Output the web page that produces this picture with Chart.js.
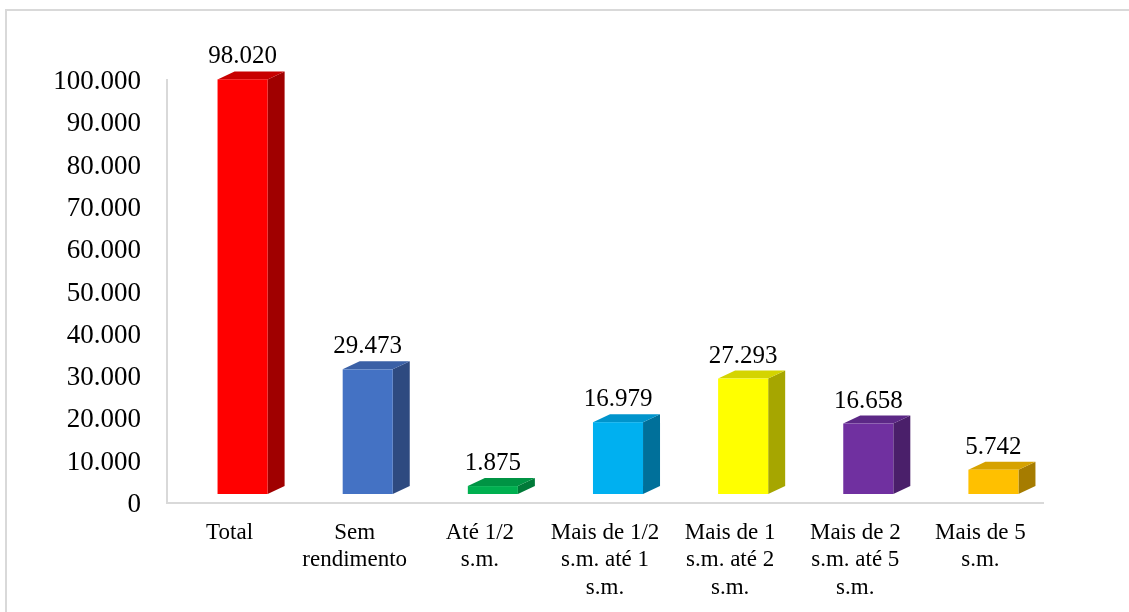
<!DOCTYPE html>
<html>
<head>
<meta charset="utf-8">
<script src="https://cdn.jsdelivr.net/npm/chart.js@4"></script>
<style>
  html, body { margin: 0; padding: 0; background: #fff; overflow: hidden; }
  #frame { position: absolute; left: 5px; top: 9px; width: 1200px; height: 700px; border: 2px solid #d9d9d9; }
  #wrap { position: absolute; left: 0; top: 0; width: 1129px; height: 612px; }
</style>
</head>
<body>
<div id="frame"></div>
<div id="wrap"><canvas id="chart" width="1129" height="612"></canvas></div>
<script>
// Data
const categories = [
  'Total',
  ['Sem', 'rendimento'],
  ['Até 1/2', 's.m.'],
  ['Mais de 1/2', 's.m. até 1', 's.m.'],
  ['Mais de 1', 's.m. até 2', 's.m.'],
  ['Mais de 2', 's.m. até 5', 's.m.'],
  ['Mais de 5', 's.m.']
];
const values = [98020, 29473, 1875, 16979, 27293, 16658, 5742];
const yTicks = [0, 10000, 20000, 30000, 40000, 50000, 60000, 70000, 80000, 90000, 100000];

// Colours: front, side, top
const frontColors = ['#ff0000', '#4472c4', '#00b050', '#00b0f0', '#ffff00', '#7030a0', '#ffc000'];
const sideColors  = ['#a00000', '#2e4a80', '#007a38', '#00709a', '#a6a600', '#4a1f6a', '#a67c00'];
const topColors   = ['#c80000', '#3a60a6', '#009444', '#0094cc', '#d4d400', '#5c2886', '#d6a200'];

const fmt = v => String(v).replace(/\B(?=(\d{3})+(?!\d))/g, '.');
const serif = "'Liberation Serif', 'Times New Roman', serif";

// 3D box drawn from each bar element
const bars3d = {
  id: 'bars3d',
  afterDatasetsDraw(chart) {
    const ctx = chart.ctx;
    const meta = chart.getDatasetMeta(0);
    const dx = 17, dy = 8, sx = 13, sy = 9;
    ctx.save();
    meta.data.forEach((bar, i) => {
      const w = bar.width;
      const left = bar.x - w / 2 + sx;
      const right = left + w;
      const top = bar.y - sy;
      const bottom = bar.base - sy;

      // side face
      ctx.fillStyle = sideColors[i];
      ctx.beginPath();
      ctx.moveTo(right, top);
      ctx.lineTo(right + dx, top - dy);
      ctx.lineTo(right + dx, bottom - dy);
      ctx.lineTo(right, bottom);
      ctx.closePath();
      ctx.fill();

      // top face
      ctx.fillStyle = topColors[i];
      ctx.beginPath();
      ctx.moveTo(left, top);
      ctx.lineTo(left + dx, top - dy);
      ctx.lineTo(right + dx, top - dy);
      ctx.lineTo(right, top);
      ctx.closePath();
      ctx.fill();

      // front face
      ctx.fillStyle = frontColors[i];
      ctx.fillRect(left, top, w, bottom - top);

      // value label
      ctx.fillStyle = '#000';
      ctx.font = '25px ' + serif;
      ctx.textAlign = 'center';
      ctx.textBaseline = 'alphabetic';
      ctx.fillText(fmt(values[i]), left + w / 2, top - dy - 8);
    });
    ctx.restore();
  }
};

new Chart(document.getElementById('chart'), {
  type: 'bar',
  data: {
    labels: categories,
    datasets: [{
      data: values,
      backgroundColor: 'rgba(0,0,0,0)',
      borderWidth: 0,
      categoryPercentage: 1,
      barPercentage: 0.4
    }]
  },
  options: {
    responsive: false,
    animation: false,
    events: [],
    layout: { padding: { left: 0, right: 86, top: 80, bottom: 0 } },
    plugins: { legend: { display: false }, tooltip: { enabled: false } },
    scales: {
      x: {
        grid: { display: false, drawTicks: false },
        border: { color: '#d9d9d9', width: 2 },
        ticks: {
          color: '#000',
          padding: 16,
          maxRotation: 0,
          autoSkip: false,
          font: { family: serif, size: 23, lineHeight: 1.2 }
        },
        afterFit(scale) { scale.height = 109; }
      },
      y: {
        min: 0,
        max: 100000,
        afterBuildTicks(scale) { scale.ticks = yTicks.map(v => ({ value: v })); },
        grid: { display: false, drawTicks: false },
        border: { color: '#d9d9d9', width: 2 },
        ticks: {
          color: '#000',
          padding: 26,
          labelOffset: 2,
          font: { family: serif, size: 27 },
          callback: v => fmt(v)
        },
        afterFit(scale) { scale.width = 167; }
      }
    }
  },
  plugins: [bars3d]
});
</script>
</body>
</html>
